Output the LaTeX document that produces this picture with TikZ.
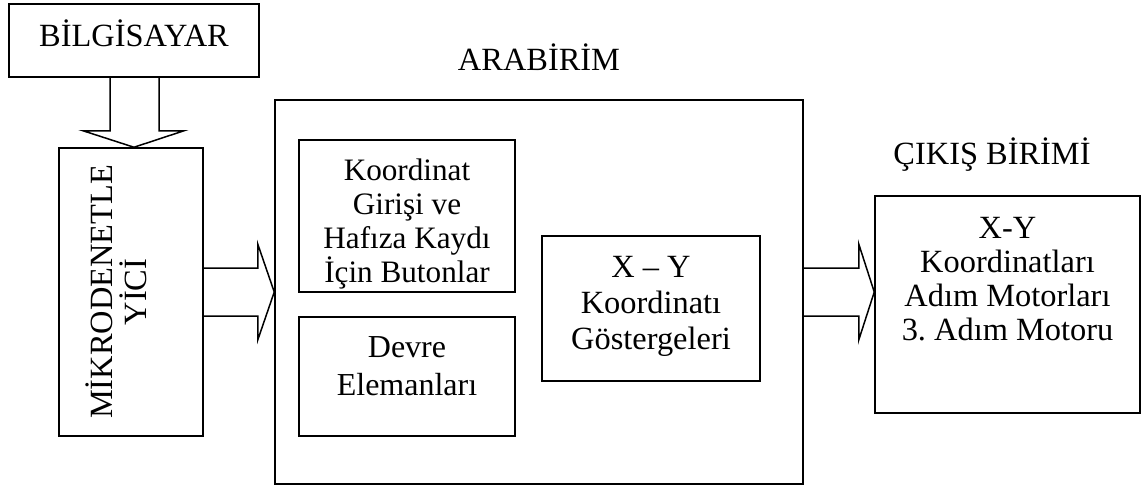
\documentclass[tikz,border=0pt]{standalone}
\usepackage{fontspec}
\setmainfont{Liberation Serif}
\usetikzlibrary{calc}
\begin{document}
\frenchspacing
\begin{tikzpicture}[x=0.5pt,y=-0.5pt,
  box/.style={draw=black, line width=0.75pt, rectangle, inner sep=0pt},
  txt/.style={inner sep=0pt, align=center, font=\fontsize{16.2pt}{17pt}\selectfont},
  ttl/.style={inner sep=0pt, font=\fontsize{16.2pt}{17pt}\selectfont},
  blk/.style={draw=black, line width=0.75pt, line join=miter}]
\useasboundingbox (0,0) rectangle (1144,487);

% blocks
\node[box, minimum width=125pt, minimum height=36.5pt] (pc) at (134,40.5) {};
\node[box, minimum width=72pt, minimum height=144pt] (mcu) at (131,292) {};
\node[box, minimum width=264pt, minimum height=192pt] (arb) at (539,292) {};
\node[box, minimum width=108pt, minimum height=76pt] (btn) at (407,216) {};
\node[box, minimum width=108pt, minimum height=59.5pt] (dev) at (407,376.5) {};
\node[box, minimum width=109pt, minimum height=72.5pt] (xy) at (651,308.5) {};
\node[box, minimum width=132.5pt, minimum height=108.5pt] (out) at (1007.5,304.5) {};

% texts
\node[ttl, anchor=base] (pcT) at (134,46) {BİLGİSAYAR};
\node[ttl, anchor=base] (arbT) at (539,70) {ARABİRİM};
\node[ttl, anchor=base] (outT) at (992,164) {ÇIKIŞ BİRİMİ};
\node[txt, rotate=90] (mcuT) at (116,292) {MİKRODENETLE\\YİCİ};
\node[txt, font=\fontsize{15.6pt}{17pt}\selectfont] (btnT) at (407,223.5) {Koordinat\\Girişi ve\\Hafıza Kaydı\\İçin Butonlar};
\node[txt, font=\fontsize{16pt}{19pt}\selectfont] (devT) at (407,366) {Devre\\Elemanları};
\node[txt, font=\fontsize{16.2pt}{18pt}\selectfont] (xyT) at (651,306.5) {X – Y\\Koordinatı\\Göstergeleri};
\node[txt] (outT2) at (1007.5,279.5) {X-Y\\Koordinatları\\Adım Motorları\\3. Adım Motoru};

% block arrows
\draw[blk] ($(pc.south)+(-24,0)$) -- ($(pc.south)+(-24,53)$) -- ($(pc.south)+(-51,53)$)
  -- (pc.south |- mcu.north) -- ($(pc.south)+(50,53)$) -- ($(pc.south)+(25,53)$)
  -- ($(pc.south)+(25,0)$);
\draw[blk] ($(mcu.east)+(0,-24)$) -- ($(mcu.east)+(54,-24)$) -- ($(mcu.east)+(54,-48)$)
  -- (arb.west |- mcu.east) -- ($(mcu.east)+(54,48)$) -- ($(mcu.east)+(54,24)$)
  -- ($(mcu.east)+(0,24)$);
\draw[blk] ($(arb.east)+(0,-24)$) -- ($(arb.east)+(55,-24)$) -- ($(arb.east)+(55,-48)$)
  -- (out.west |- arb.east) -- ($(arb.east)+(55,48)$) -- ($(arb.east)+(55,24)$)
  -- ($(arb.east)+(0,24)$);
\end{tikzpicture}
\end{document}
